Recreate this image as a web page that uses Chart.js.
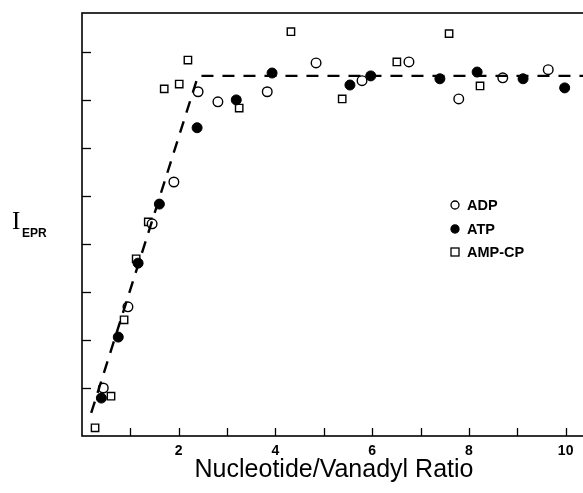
<!DOCTYPE html>
<html>
<head>
<meta charset="utf-8">
<script src="https://cdn.jsdelivr.net/npm/chart.js@4/dist/chart.umd.min.js"></script>
<style>
  html, body { margin: 0; padding: 0; background: #fff; overflow: hidden; }
  #wrap { width: 583px; height: 493px; overflow: hidden; position: relative; }
  canvas { position: absolute; left: 0; top: 0; }
</style>
</head>
<body>
<div id="wrap">
  <canvas id="epr" width="640" height="493"></canvas>
</div>
<script>
// values (x = nucleotide/vanadyl ratio, y = I_EPR in tick units)
const adpX = [0.44, 0.95, 1.45, 1.90, 2.40, 2.81, 3.83, 4.84, 5.79, 6.76, 7.79, 8.70, 9.64];
const adpY = [1.00, 2.69, 4.42, 5.29, 7.17, 6.96, 7.17, 7.77, 7.40, 7.79, 7.02, 7.46, 7.63];

const atpX = [0.40, 0.75, 1.16, 1.60, 2.38, 3.19, 3.93, 5.54, 5.97, 7.40, 8.17, 9.12, 9.98];
const atpY = [0.79, 2.06, 3.60, 4.83, 6.42, 7.00, 7.56, 7.31, 7.50, 7.44, 7.58, 7.44, 7.25];

const ampX = [0.27, 0.60, 0.87, 1.12, 1.37, 1.70, 2.01, 2.19, 3.25, 4.32, 5.38, 6.51, 7.59, 8.23];
const ampY = [0.17, 0.83, 2.42, 3.69, 4.46, 7.23, 7.33, 7.83, 6.83, 8.42, 7.02, 7.79, 8.38, 7.29];

// dashed fit: rising line then plateau
const fitX = [0.19, 2.40, 11];
const fitY = [0.48, 7.50, 7.50];

const xTickValues = [1, 2, 3, 4, 5, 6, 7, 8, 9, 10];
const xTickLabels = [2, 4, 6, 8, 10];
const yTickValues = [1, 2, 3, 4, 5, 6, 7, 8];

const seriesNames = ['ADP', 'ATP', 'AMP-CP'];
const xTitle = 'Nucleotide/Vanadyl Ratio';

function toPoints(xs, ys) {
    return xs.map((x, i) => ({ x: x, y: ys[i] }));
}

const FONT = '"Liberation Sans", Arial, Helvetica, sans-serif';

// frame, inward ticks, axis titles and legend
const decorations = {
    id: 'decorations',
    afterDraw(chart) {
        const ctx = chart.ctx;
        const area = chart.chartArea;
        const xs = chart.scales.x;
        const ys = chart.scales.y;
        ctx.save();
        ctx.strokeStyle = '#000';
        ctx.lineWidth = 1.6;
        ctx.strokeRect(area.left, area.top, area.right - area.left, area.bottom - area.top);

        ctx.lineWidth = 1.3;
        xTickValues.forEach(v => {
            const px = Math.round(xs.getPixelForValue(v)) + 0.5;
            ctx.beginPath();
            ctx.moveTo(px, area.bottom);
            ctx.lineTo(px, area.bottom - 8);
            ctx.stroke();
        });
        yTickValues.forEach(v => {
            const py = Math.round(ys.getPixelForValue(v)) + 0.5;
            ctx.beginPath();
            ctx.moveTo(area.left, py);
            ctx.lineTo(area.left + 9, py);
            ctx.stroke();
        });

        // I_EPR
        ctx.fillStyle = '#000';
        ctx.textBaseline = 'alphabetic';
        ctx.textAlign = 'left';
        ctx.font = '25px "Liberation Serif", "DejaVu Serif", serif';
        ctx.fillText('I', 12, 229);
        ctx.font = 'bold 12px ' + FONT;
        ctx.fillText('EPR', 22, 237);

        // x title (centred a bit left of the plot centre, as in the original)
        ctx.font = '25px ' + FONT;
        ctx.textAlign = 'center';
        ctx.fillText(xTitle, 334, 477);

        // legend
        ctx.textAlign = 'left';
        const lx = 455;
        const rows = [205, 229, 252];
        const sets = chart.data.datasets.slice(1);
        sets.forEach((ds, i) => {
            const y = rows[i];
            ctx.lineWidth = 1.3;
            ctx.strokeStyle = '#000';
            if (ds.pointStyle === 'rect') {
                ctx.fillStyle = '#fff';
                ctx.fillRect(lx - 4, y - 4, 8, 8);
                ctx.strokeRect(lx - 4, y - 4, 8, 8);
            } else {
                ctx.beginPath();
                ctx.arc(lx, y, 4, 0, Math.PI * 2);
                ctx.fillStyle = ds.backgroundColor;
                ctx.fill();
                ctx.stroke();
            }
            ctx.fillStyle = '#000';
            ctx.font = 'bold 14.5px ' + FONT;
            ctx.textBaseline = 'middle';
            ctx.fillText(ds.label, lx + 12, y + 1);
        });
        ctx.restore();
    }
};

const ctx = document.getElementById('epr').getContext('2d');

new Chart(ctx, {
    type: 'scatter',
    data: {
        datasets: [
            {
                label: 'fit',
                type: 'line',
                data: toPoints(fitX, fitY),
                borderColor: '#000',
                borderWidth: 2.4,
                borderDash: [12, 9],
                pointRadius: 0,
                fill: false,
                tension: 0
            },
            {
                label: seriesNames[0],
                data: toPoints(adpX, adpY),
                pointStyle: 'circle',
                pointRadius: 4.8,
                borderColor: '#000',
                backgroundColor: '#fff',
                borderWidth: 1.4
            },
            {
                label: seriesNames[1],
                data: toPoints(atpX, atpY),
                pointStyle: 'circle',
                pointRadius: 5,
                borderColor: '#000',
                backgroundColor: '#000',
                borderWidth: 1
            },
            {
                label: seriesNames[2],
                data: toPoints(ampX, ampY),
                pointStyle: 'rect',
                pointRadius: 5.2,
                borderColor: '#000',
                backgroundColor: '#fff',
                borderWidth: 1.4
            }
        ]
    },
    options: {
        responsive: false,
        animation: false,
        layout: { padding: { top: 13, right: 26, left: 0, bottom: 0 } },
        plugins: {
            legend: { display: false },
            tooltip: { enabled: false }
        },
        scales: {
            x: {
                type: 'linear',
                min: 0,
                max: 11,
                grid: { display: false, drawTicks: false },
                border: { display: false },
                afterBuildTicks: (scale) => {
                    scale.ticks = xTickValues.map(v => ({ value: v }));
                },
                ticks: {
                    autoSkip: false,
                    maxRotation: 0,
                    padding: 7,
                    color: '#000',
                    font: { family: FONT, size: 14, weight: 'bold' },
                    callback: (v) => xTickLabels.includes(v) ? String(v) : ''
                },
                title: { display: false },
                afterFit: (scale) => { scale.height = 57; }
            },
            y: {
                type: 'linear',
                min: 0,
                max: 8.81,
                grid: { display: false, drawTicks: false },
                border: { display: false },
                ticks: { display: false },
                afterFit: (scale) => { scale.width = 82; }
            }
        }
    },
    plugins: [decorations]
});
</script>
</body>
</html>
